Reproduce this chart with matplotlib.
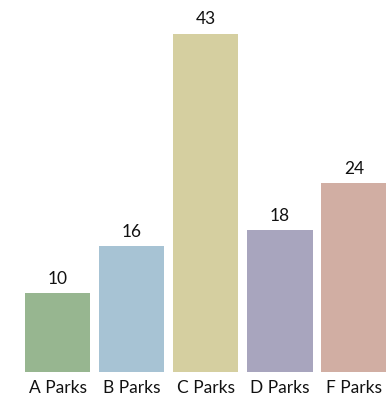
import matplotlib

matplotlib.use("Agg")
import matplotlib.pyplot as plt

categories = ["A Parks", "B Parks", "C Parks", "D Parks", "F Parks"]
values = [10, 16, 43, 18, 24]
colors = ["#97b690", "#a7c3d4", "#d5cfa0", "#a8a5be", "#d1aea3"]

plt.rcParams["font.family"] = ["Lato", "DejaVu Sans"]

fig = plt.figure(figsize=(3.86, 3.98), dpi=100)
ax = fig.add_axes([0, 26 / 398, 1, 372 / 398])
x = list(range(len(categories)))
bars = ax.bar(x, values, width=0.88, color=colors)
for b, v in zip(bars, values):
    ax.annotate(str(v), (b.get_x() + b.get_width() / 2, v), xytext=(0, 4.5),
                textcoords="offset points", ha="center", va="bottom",
                fontsize=12.5, color="#111111")
ax.set_xlim(-0.776, 4.43)
ax.set_ylim(0, 372 / 7.87)
ax.set_xticks(x)
ax.set_xticklabels(categories, fontsize=12.5, color="#111111")
ax.tick_params(axis="x", length=0, pad=6)
ax.set_yticks([])
for s in ax.spines.values():
    s.set_visible(False)
fig.savefig("out.png", dpi=100)
